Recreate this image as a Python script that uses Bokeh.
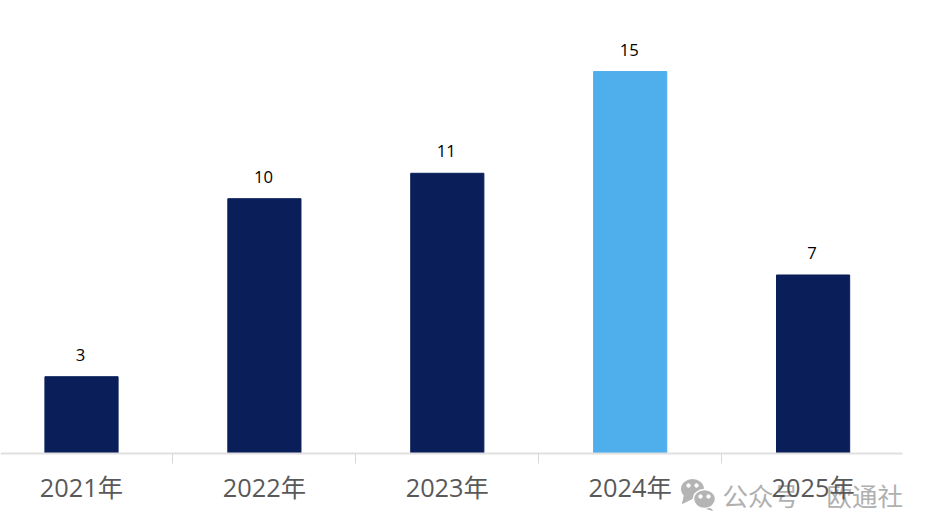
from bokeh.plotting import figure
from bokeh.models import Range1d, LinearAxis, FixedTicker, ColumnDataSource
from bokeh.core.properties import value
from bokeh.embed import file_html
from bokeh.resources import INLINE

years = ["2021年", "2022年", "2023年", "2024年", "2025年"]
counts = [3, 10, 11, 15, 7]
colors = ["#0a1f5a", "#0a1f5a", "#0a1f5a", "#4faeec", "#0a1f5a"]
positions = [0, 1, 2, 3, 4]
boundaries = [0.5, 1.5, 2.5, 3.5]

W, H = 932, 532
UNIT_X = 182.9
UNIT_Y = 25.43
X0 = 81.0        # px of first category centre
Y0 = 452.5       # px of baseline
AXIS_END = 902   # px where the axis line stops


def dx(px):
    return (px - X0) / UNIT_X


def dy(py):
    return (Y0 - py) / UNIT_Y


p = figure(width=W, height=H, output_backend="svg", toolbar_location=None,
           x_range=Range1d(dx(0), dx(W)), y_range=Range1d(dy(H), dy(0)),
           min_border=0, outline_line_color=None, x_axis_type=None, y_axis_type=None)
p.grid.visible = False

src = ColumnDataSource(dict(x=positions, top=counts, color=colors,
                            label=[str(c) for c in counts]))
p.vbar(x="x", top="top", bottom=0, width=0.4, color="color", source=src)
p.text(x="x", y="top", text="label", source=src, text_align="center", text_baseline="bottom",
       x_offset=-1, y_offset=-16, text_font=value("Open Sans"), text_font_size="12.5pt",
       text_color="#000000")

main = LinearAxis(ticker=FixedTicker(ticks=positions),
                  major_label_overrides={i: y for i, y in zip(positions, years)},
                  fixed_location=0, bounds=(dx(0), dx(AXIS_END)),
                  major_tick_line_color=None, minor_tick_line_color=None,
                  axis_line_color="#e0e0e0", axis_line_width=2, major_label_standoff=11,
                  major_label_text_font="Open Sans, Noto Sans CJK SC",
                  major_label_text_font_size="19pt", major_label_text_color="#595959")
p.add_layout(main, "below")
ticks = LinearAxis(ticker=FixedTicker(ticks=boundaries),
                   major_label_overrides={b: "" for b in boundaries},
                   fixed_location=0, major_tick_in=0, major_tick_out=10,
                   major_tick_line_color="#d9d9d9", minor_tick_line_color=None,
                   axis_line_color=None)
p.add_layout(ticks, "below")

# WeChat-style watermark
GREY = "#b4b4b4"
p.patch([dx(v) for v in (684, 682, 692)], [dy(v) for v in (494, 503, 498)], color=GREY)
p.patch([dx(v) for v in (708, 712, 702)], [dy(v) for v in (506, 510, 507)], color=GREY)
p.ellipse(x=[dx(692)], y=[dy(488.5)], width=[23], height=[20], width_units="screen",
          height_units="screen", fill_color=GREY, line_color=None)
p.ellipse(x=[dx(704)], y=[dy(498.5)], width=[22], height=[19], width_units="screen",
          height_units="screen", fill_color=GREY, line_color="#ffffff", line_width=1.5)
p.scatter(x=[dx(v) for v in (688, 696, 700, 708)], y=[dy(v) for v in (485, 485, 496, 496)],
          size=3.5, color="#ffffff")
p.text(x=[dx(722), dx(826)], y=[dy(494), dy(494)], text=["公众号", "欧通社"],
       text_align="left", text_baseline="middle", text_color="#b0b0b0",
       text_font=value("Noto Sans CJK SC"), text_font_size="25.5px")

open("out.html", "w").write(file_html(p, INLINE))
